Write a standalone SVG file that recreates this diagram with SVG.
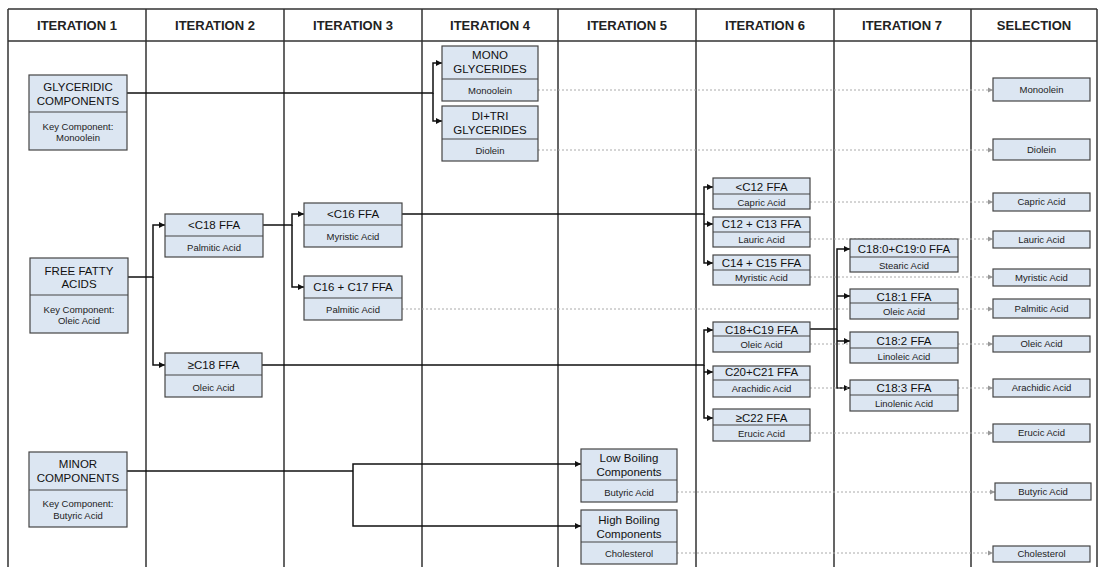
<svg xmlns="http://www.w3.org/2000/svg" width="1099" height="567" viewBox="0 0 1099 567">
<style>
.grid{stroke:#333;stroke-width:1.5;fill:none}
.hdr{font-family:'Liberation Sans',Arial,sans-serif;font-weight:bold;font-size:13px;fill:#222;text-anchor:middle}
.box{fill:#dce6f2;stroke:#454545;stroke-width:1.2}
.div{stroke:#454545;stroke-width:1.2}
.t{font-family:'Liberation Sans',Arial,sans-serif;font-size:11.5px;fill:#111;text-anchor:middle}
.s{font-family:'Liberation Sans',Arial,sans-serif;font-size:9.5px;fill:#222;text-anchor:middle}
.c{stroke:#111;stroke-width:1.5;fill:none}
.ca{stroke:#111;stroke-width:1.5;fill:none;marker-end:url(#ah)}
.d{stroke:#aaa;stroke-width:1;stroke-dasharray:2 2;fill:none;marker-end:url(#gh)}
</style>
<defs>
<marker id="ah" markerUnits="userSpaceOnUse" markerWidth="7" markerHeight="7" refX="6" refY="3.5" orient="auto"><path d="M0,0.5 L6,3.5 L0,6.5 z" fill="#111"/></marker>
<marker id="gh" markerUnits="userSpaceOnUse" markerWidth="6" markerHeight="6" refX="5" refY="3" orient="auto"><path d="M0,0.5 L5,3 L0,5.5 z" fill="#999"/></marker>
</defs>
<rect width="1099" height="567" fill="#fff"/>
<g id="grid">
<path class="grid" d="M8,9 H1097 M8,41 H1097 M8,9 V567 M146,9 V567 M284,9 V567 M422,9 V567 M558,9 V567 M696,9 V567 M834,9 V567 M971,9 V567 M1097,9 V567"/>
<text class="hdr" x="77" y="30">ITERATION 1</text>
<text class="hdr" x="215" y="30">ITERATION 2</text>
<text class="hdr" x="353" y="30">ITERATION 3</text>
<text class="hdr" x="490" y="30">ITERATION 4</text>
<text class="hdr" x="627" y="30">ITERATION 5</text>
<text class="hdr" x="765" y="30">ITERATION 6</text>
<text class="hdr" x="902" y="30">ITERATION 7</text>
<text class="hdr" x="1034" y="30">SELECTION</text>
</g>
<g id="connectors">
<path class="ca" d="M127,93 H433 V63 H442"/>
<path class="ca" d="M433,93 V121 H442"/>
<path class="ca" d="M128,277 H153 V225 H165"/>
<path class="ca" d="M153,277 V365 H165"/>
<path class="ca" d="M263,225 H292 V214 H304"/>
<path class="ca" d="M292,225 V287 H304"/>
<path class="ca" d="M402,214 H704 V187 H713"/>
<path class="ca" d="M704,214 V263 H713"/>
<path class="ca" d="M704,224 H713"/>
<path class="ca" d="M262,365 H704 V330 H713"/>
<path class="ca" d="M704,365 V418 H713"/>
<path class="ca" d="M704,372 H713"/>
<path class="ca" d="M810,329 H837 V249 H850"/>
<path class="ca" d="M837,329 V388 H850"/>
<path class="ca" d="M837,296 H850"/>
<path class="ca" d="M837,341 H850"/>
<path class="c" d="M127,471 H353"/>
<path class="ca" d="M353,471 V464 H581"/>
<path class="ca" d="M353,471 V526 H581"/>
<path class="d" d="M538,90 H993"/>
<path class="d" d="M538,150 H993"/>
<path class="d" d="M810,202 H993"/>
<path class="d" d="M810,239 H993"/>
<path class="d" d="M810,277 H993"/>
<path class="d" d="M402,309 H993"/>
<path class="d" d="M810,344 H993"/>
<path class="d" d="M810,388 H993"/>
<path class="d" d="M810,433 H993"/>
<path class="d" d="M677,492 H995"/>
<path class="d" d="M677,553 H993"/>
</g>
<g id="glyceridic"><rect class="box" x="29" y="75" width="98" height="75"/><line class="div" x1="29" y1="112" x2="127" y2="112"/><text class="t" x="78" y="91">GLYCERIDIC</text><text class="t" x="78" y="105">COMPONENTS</text><text class="s" x="78" y="129.5">Key Component:</text><text class="s" x="78" y="140.5">Monoolein</text></g>
<g id="ffa"><rect class="box" x="30" y="258" width="98" height="75"/><line class="div" x1="30" y1="295" x2="128" y2="295"/><text class="t" x="79" y="275">FREE FATTY</text><text class="t" x="79" y="288">ACIDS</text><text class="s" x="79" y="312.5">Key Component:</text><text class="s" x="79" y="323.5">Oleic Acid</text></g>
<g id="minor"><rect class="box" x="29" y="452" width="98" height="75"/><line class="div" x1="29" y1="490" x2="127" y2="490"/><text class="t" x="78" y="468">MINOR</text><text class="t" x="78" y="482">COMPONENTS</text><text class="s" x="78" y="506.5">Key Component:</text><text class="s" x="78" y="518.5">Butyric Acid</text></g>
<g id="lt-c18"><rect class="box" x="165" y="214" width="98" height="43"/><line class="div" x1="165" y1="236" x2="263" y2="236"/><text class="t" x="214" y="229">&lt;C18 FFA</text><text class="s" x="214" y="250.5">Palmitic Acid</text></g>
<g id="ge-c18"><rect class="box" x="165" y="353" width="97" height="44"/><line class="div" x1="165" y1="375" x2="262" y2="375"/><text class="t" x="213.5" y="369">≥C18 FFA</text><text class="s" x="213.5" y="390.5">Oleic Acid</text></g>
<g id="lt-c16"><rect class="box" x="304" y="203" width="98" height="44"/><line class="div" x1="304" y1="225" x2="402" y2="225"/><text class="t" x="353" y="218">&lt;C16 FFA</text><text class="s" x="353" y="239.5">Myristic Acid</text></g>
<g id="c16-c17"><rect class="box" x="304" y="276" width="98" height="44"/><line class="div" x1="304" y1="298" x2="402" y2="298"/><text class="t" x="353" y="291">C16 + C17 FFA</text><text class="s" x="353" y="312.5">Palmitic Acid</text></g>
<g id="mono"><rect class="box" x="442" y="46" width="96" height="55"/><line class="div" x1="442" y1="79" x2="538" y2="79"/><text class="t" x="490" y="59">MONO</text><text class="t" x="490" y="73">GLYCERIDES</text><text class="s" x="490" y="93.5">Monoolein</text></g>
<g id="ditri"><rect class="box" x="442" y="106" width="96" height="55"/><line class="div" x1="442" y1="139" x2="538" y2="139"/><text class="t" x="490" y="120">DI+TRI</text><text class="t" x="490" y="134">GLYCERIDES</text><text class="s" x="490" y="153.5">Diolein</text></g>
<g id="low-boiling"><rect class="box" x="581" y="449" width="96" height="53"/><line class="div" x1="581" y1="480" x2="677" y2="480"/><text class="t" x="629" y="462">Low Boiling</text><text class="t" x="629" y="476">Components</text><text class="s" x="629" y="495.5">Butyric Acid</text></g>
<g id="high-boiling"><rect class="box" x="581" y="510" width="96" height="54"/><line class="div" x1="581" y1="542" x2="677" y2="542"/><text class="t" x="629" y="524">High Boiling</text><text class="t" x="629" y="538">Components</text><text class="s" x="629" y="556.5">Cholesterol</text></g>
<g id="lt-c12"><rect class="box" x="713" y="178" width="97" height="31"/><line class="div" x1="713" y1="194" x2="810" y2="194"/><text class="t" x="761.5" y="191">&lt;C12 FFA</text><text class="s" x="761.5" y="205.5">Capric Acid</text></g>
<g id="c12-c13"><rect class="box" x="713" y="217" width="97" height="30"/><line class="div" x1="713" y1="232" x2="810" y2="232"/><text class="t" x="761.5" y="228">C12 + C13 FFA</text><text class="s" x="761.5" y="242.5">Lauric Acid</text></g>
<g id="c14-c15"><rect class="box" x="713" y="255" width="97" height="30"/><line class="div" x1="713" y1="270" x2="810" y2="270"/><text class="t" x="761.5" y="267">C14 + C15 FFA</text><text class="s" x="761.5" y="280.5">Myristic Acid</text></g>
<g id="c18-c19"><rect class="box" x="713" y="322" width="97" height="30"/><line class="div" x1="713" y1="336" x2="810" y2="336"/><text class="t" x="761.5" y="334">C18+C19 FFA</text><text class="s" x="761.5" y="347.5">Oleic Acid</text></g>
<g id="c20-c21"><rect class="box" x="713" y="366" width="97" height="31"/><line class="div" x1="713" y1="380" x2="810" y2="380"/><text class="t" x="761.5" y="376">C20+C21 FFA</text><text class="s" x="761.5" y="391.5">Arachidic Acid</text></g>
<g id="ge-c22"><rect class="box" x="713" y="409" width="97" height="32"/><line class="div" x1="713" y1="425" x2="810" y2="425"/><text class="t" x="761.5" y="422">≥C22 FFA</text><text class="s" x="761.5" y="436.5">Erucic Acid</text></g>
<g id="c18-0"><rect class="box" x="850" y="239" width="108" height="33"/><line class="div" x1="850" y1="257" x2="958" y2="257"/><text class="t" x="904" y="253">C18:0+C19:0 FFA</text><text class="s" x="904" y="268.5">Stearic Acid</text></g>
<g id="c18-1"><rect class="box" x="850" y="289" width="108" height="30"/><line class="div" x1="850" y1="303" x2="958" y2="303"/><text class="t" x="904" y="301">C18:1 FFA</text><text class="s" x="904" y="314.5">Oleic Acid</text></g>
<g id="c18-2"><rect class="box" x="850" y="332" width="108" height="31"/><line class="div" x1="850" y1="348" x2="958" y2="348"/><text class="t" x="904" y="345">C18:2 FFA</text><text class="s" x="904" y="359.5">Linoleic Acid</text></g>
<g id="c18-3"><rect class="box" x="850" y="380" width="108" height="31"/><line class="div" x1="850" y1="395" x2="958" y2="395"/><text class="t" x="904" y="392">C18:3 FFA</text><text class="s" x="904" y="406.5">Linolenic Acid</text></g>
<g id="sel-monoolein"><rect class="box" x="993" y="78" width="97" height="23"/><text class="s" x="1041.5" y="93.3">Monoolein</text></g>
<g id="sel-diolein"><rect class="box" x="993" y="139" width="97" height="21"/><text class="s" x="1041.5" y="153.3">Diolein</text></g>
<g id="sel-capric"><rect class="box" x="993" y="193" width="97" height="18"/><text class="s" x="1041.5" y="205.3">Capric Acid</text></g>
<g id="sel-lauric"><rect class="box" x="993" y="231" width="97" height="17"/><text class="s" x="1041.5" y="242.8">Lauric Acid</text></g>
<g id="sel-myristic"><rect class="box" x="993" y="269" width="97" height="17"/><text class="s" x="1041.5" y="280.8">Myristic Acid</text></g>
<g id="sel-palmitic"><rect class="box" x="993" y="299" width="97" height="19"/><text class="s" x="1041.5" y="311.8">Palmitic Acid</text></g>
<g id="sel-oleic"><rect class="box" x="993" y="336" width="97" height="16"/><text class="s" x="1041.5" y="347.3">Oleic Acid</text></g>
<g id="sel-arachidic"><rect class="box" x="993" y="379" width="97" height="18"/><text class="s" x="1041.5" y="391.3">Arachidic Acid</text></g>
<g id="sel-erucic"><rect class="box" x="993" y="424" width="97" height="18"/><text class="s" x="1041.5" y="436.3">Erucic Acid</text></g>
<g id="sel-butyric"><rect class="box" x="995" y="483" width="96" height="17"/><text class="s" x="1043" y="494.8">Butyric Acid</text></g>
<g id="sel-cholesterol"><rect class="box" x="993" y="546" width="97" height="16"/><text class="s" x="1041.5" y="557.3">Cholesterol</text></g>
</svg>
